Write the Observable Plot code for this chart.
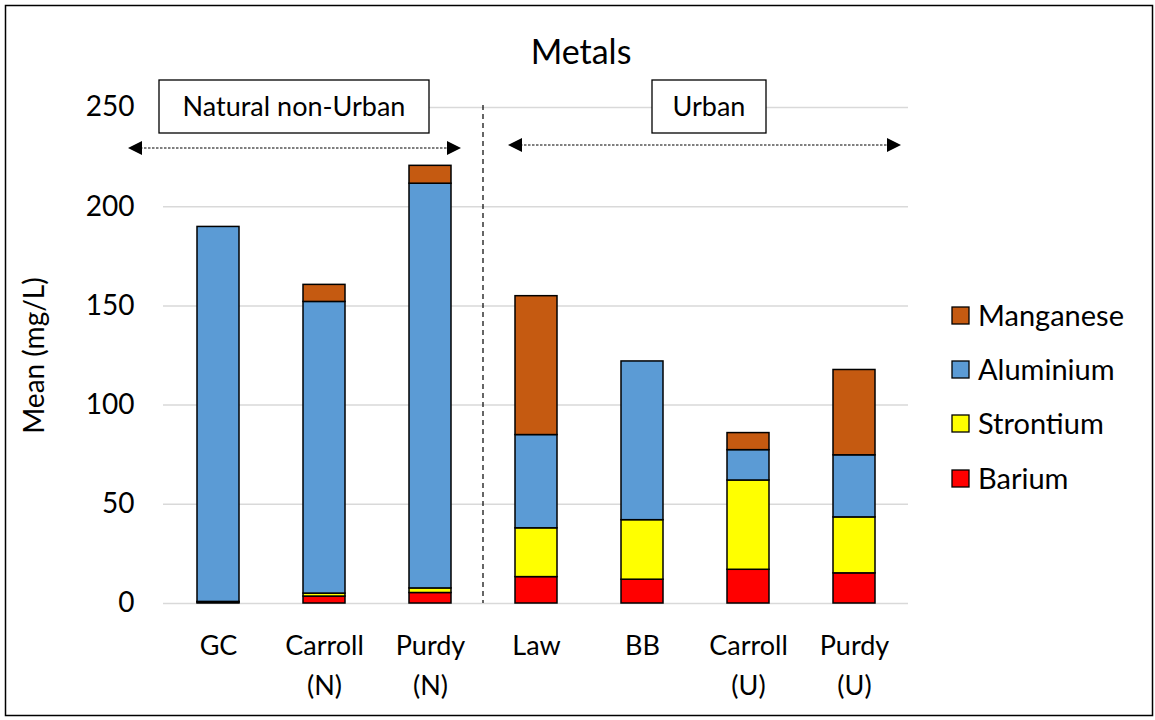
<!DOCTYPE html>
<html>
<head>
<meta charset="utf-8">
<script src="https://cdn.jsdelivr.net/npm/d3@7"></script>
<script src="https://cdn.jsdelivr.net/npm/@observablehq/plot@0.6"></script>
<style>
  html, body { margin: 0; padding: 0; background: white; overflow: hidden; }
  #chart svg { display: block; }
</style>
</head>
<body>
<div id="chart"></div>
<script>
const categories = ["GC", "Carroll (N)", "Purdy (N)", "Law", "BB", "Carroll (U)", "Purdy (U)"];
const metals = ["Barium", "Strontium", "Aluminium", "Manganese"];
const barium    = [0.5, 3.5, 5.3, 13.3, 12.0, 17.0, 15.2];
const strontium = [0.3, 1.5, 2.3, 24.6, 30.0, 45.0, 28.2];
const aluminium = [189.0, 147.0, 204.0, 47.0, 80.0, 15.3, 31.3];
const manganese = [0.0, 8.6, 9.0, 70.0, 0.0, 8.6, 43.0];
const metalColors = ["#FF0000", "#FFFF00", "#5B9BD5", "#C55A11"];
const yTicks = [0, 50, 100, 150, 200, 250];
const groupLabels = ["Natural non-Urban", "Urban"];
const title = "Metals";
const yLabel = "Mean (mg/L)";

const series = [barium, strontium, aluminium, manganese];
const data = [];
metals.forEach((m, i) => categories.forEach((c, j) => data.push({cat: c, metal: m, value: series[i][j]})));

const FONT = "Lato, 'Open Sans', sans-serif";

const plot = Plot.plot({
  width: 1155, height: 720,
  marginLeft: 163, marginRight: 247, marginTop: 107, marginBottom: 117,
  style: {fontFamily: FONT, fontSize: "27px", background: "white", color: "black"},
  x: {domain: categories, paddingInner: 0.605, paddingOuter: 0.3025, label: null},
  y: {domain: [0, 250], label: null},
  color: {domain: metals, range: metalColors},
  marks: [
    Plot.gridY(yTicks, {stroke: "#d9d9d9", strokeOpacity: 1, strokeWidth: 1.5}),
    Plot.barY(data, {x: "cat", y: "value", fill: "metal", stroke: "black", strokeWidth: 1.5, order: metals}),
    Plot.axisY(yTicks, {tickSize: 0, tickPadding: 29, label: null, fontSize: 28}),
    Plot.axisX({tickSize: 0, tickPadding: 23, label: null, fontSize: 27, lineHeight: 1.48,
      tickFormat: d => d.replace(" ", "\n")}),
    Plot.text([yLabel], {frameAnchor: "left", dx: -128, rotate: -90, fontSize: 28, textAnchor: "middle", text: d => d}),
    Plot.text([title], {frameAnchor: "top", dx: 45, dy: -68, fontSize: 34, text: d => d})
  ]
});
document.getElementById("chart").appendChild(plot);

// Annotations and legend, positioned from the plot's scales
const xs = plot.scale("x"), ys = plot.scale("y");
const svg = d3.select(plot);
const cx = c => xs.apply(c) + xs.bandwidth / 2;
const y0 = ys.apply(0);

// divider between groups
const divX = (cx("Purdy (N)") + cx("Law")) / 2;
svg.append("line").attr("x1", divX).attr("x2", divX).attr("y1", 105).attr("y2", y0)
  .attr("stroke", "black").attr("stroke-width", 1.2).attr("stroke-dasharray", "5,4");

// arrows
function arrow(x1, x2, y) {
  svg.append("line").attr("x1", x1 + 12).attr("x2", x2 - 12).attr("y1", y).attr("y2", y)
    .attr("stroke", "black").attr("stroke-width", 1).attr("stroke-dasharray", "2.5,1.5");
  svg.append("path").attr("d", `M${x1},${y} L${x1 + 14},${y - 7} L${x1 + 14},${y + 7} Z`).attr("fill", "black");
  svg.append("path").attr("d", `M${x2},${y} L${x2 - 14},${y - 7} L${x2 - 14},${y + 7} Z`).attr("fill", "black");
}
arrow(128, 461, 148);
arrow(508, 901, 145);

// group boxes
function box(x1, x2, label) {
  svg.append("rect").attr("x", x1).attr("y", 80).attr("width", x2 - x1).attr("height", 53)
    .attr("fill", "white").attr("stroke", "black").attr("stroke-width", 1.3);
  svg.append("text").attr("x", (x1 + x2) / 2).attr("y", 107).attr("dy", "0.35em")
    .attr("text-anchor", "middle").attr("font-size", 27).attr("font-family", FONT).text(label);
}
box(159, 429, groupLabels[0]);
box(652, 766, groupLabels[1]);

// legend
const legendOrder = metals.slice().reverse();
const legendY = [316, 370, 424, 479];
legendOrder.forEach((m, i) => {
  const g = svg.append("g");
  g.append("rect").attr("x", 952).attr("y", legendY[i] - 9).attr("width", 17).attr("height", 17)
    .attr("fill", metalColors[metals.indexOf(m)]).attr("stroke", "black").attr("stroke-width", 1.3);
  g.append("text").attr("x", 978).attr("y", legendY[i]).attr("dy", "0.35em")
    .attr("text-anchor", "start").attr("font-size", 29).attr("font-family", FONT).text(m);
});

// outer border
svg.append("rect").attr("x", 5.5).attr("y", 5.5).attr("width", 1147).attr("height", 710)
  .attr("fill", "none").attr("stroke", "black").attr("stroke-width", 1.5);
</script>
</body>
</html>
